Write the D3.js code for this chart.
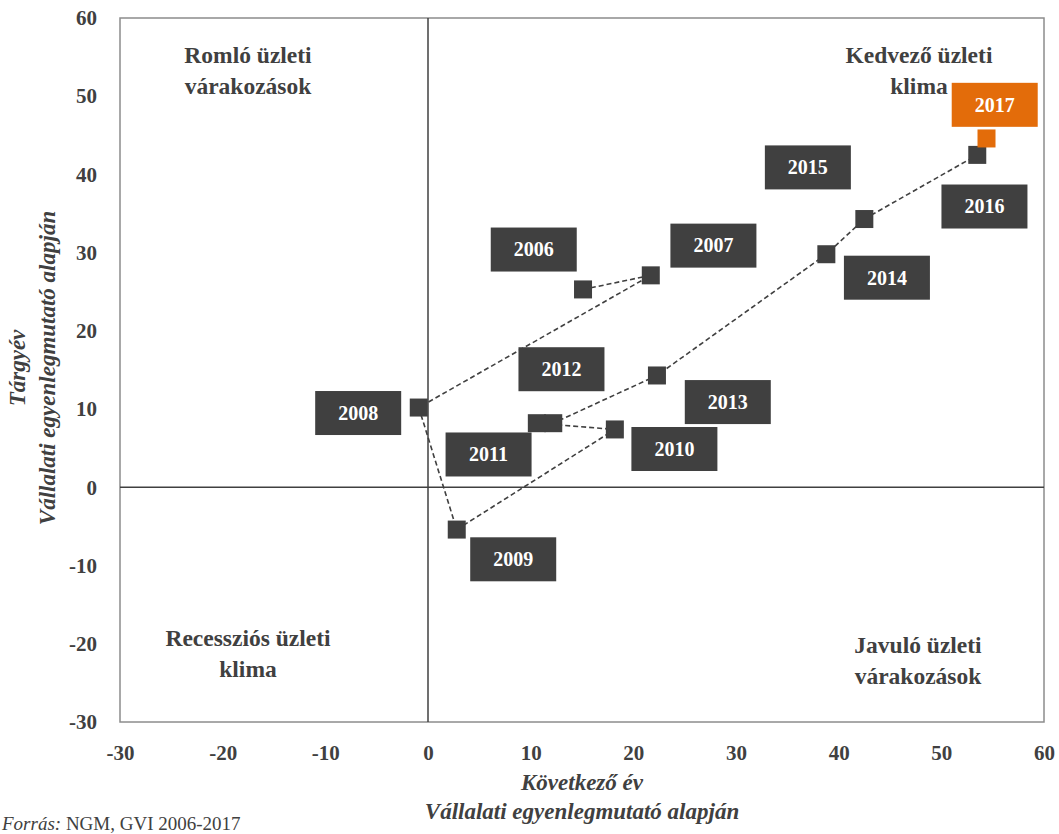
<!DOCTYPE html>
<html lang="hu">
<head>
<meta charset="UTF-8">
<title>Üzleti klíma</title>
<style>
  body { margin: 0; background: #fff; }
  svg text { font-family: "Liberation Serif", "DejaVu Serif", serif; }
</style>
</head>
<body>
<div id="chart"></div>
<script src="https://d3js.org/d3.v7.min.js"></script>
<script>
// years and the two balance indicators (x: next year, y: current year)
const years = [2006, 2007, 2008, 2009, 2010, 2011, 2012, 2013, 2014, 2015, 2016, 2017];
const nextYear = [15.1, 21.7, -0.9, 2.8, 18.2, 10.6, 12.2, 22.3, 38.8, 42.5, 53.5, 54.4];
const thisYear = [25.3, 27.1, 10.2, -5.4, 7.4, 8.2, 8.2, 14.3, 29.8, 34.3, 42.5, 44.6];
const tickValues = [-30, -20, -10, 0, 10, 20, 30, 40, 50, 60];

// where each year label sits, in chart units
const labelX = [10.3, 27.8, -6.8, 8.3, 24.0, 5.9, 13.0, 29.2, 44.7, 37.0, 54.2, 55.2];
const labelY = [30.4, 30.9, 9.5, -9.2, 4.9, 4.2, 15.1, 10.9, 26.8, 40.9, 35.9, 48.9];

const dark = "#404040";
const orange = "#E36C0A";

const W = 1059, H = 834;
const svg = d3.select("#chart").append("svg")
    .attr("width", W).attr("height", H);

const x = d3.scaleLinear().domain([-30, 60]).range([120, 1044]);
const y = d3.scaleLinear().domain([-30, 60]).range([722, 18]);

// frame
svg.append("rect")
    .attr("x", x(-30)).attr("y", y(60))
    .attr("width", x(60) - x(-30)).attr("height", y(-30) - y(60))
    .attr("fill", "none").attr("stroke", "#8c8c8c").attr("stroke-width", 1.5);

// zero lines
svg.append("line")
    .attr("x1", x(0)).attr("x2", x(0)).attr("y1", y(60)).attr("y2", y(-30))
    .attr("stroke", dark).attr("stroke-width", 1.5);
svg.append("line")
    .attr("x1", x(-30)).attr("x2", x(60)).attr("y1", y(0)).attr("y2", y(0))
    .attr("stroke", dark).attr("stroke-width", 1.5);

// axes (labels only), plain hyphen for negatives
const fmt = d => String(d);
const xAxis = svg.append("g")
    .attr("transform", `translate(0,${y(-30)})`)
    .call(d3.axisBottom(x).tickValues(tickValues).tickFormat(fmt).tickSize(0).tickPadding(23));
const yAxis = svg.append("g")
    .attr("transform", `translate(${x(-30)},0)`)
    .call(d3.axisLeft(y).tickValues(tickValues).tickFormat(fmt).tickSize(0).tickPadding(23));
[xAxis, yAxis].forEach(g => {
    g.select(".domain").remove();
    g.selectAll("text")
        .attr("font-family", "Liberation Serif, serif")
        .attr("font-size", 21).attr("font-weight", "bold").attr("fill", dark);
});

// quadrant captions
const quads = [
    { lines: ["Romló üzleti", "várakozások"], cx: 248, cy: 63 },
    { lines: ["Kedvező üzleti", "klima"], cx: 919, cy: 63 },
    { lines: ["Recessziós üzleti", "klima"], cx: 248, cy: 646 },
    { lines: ["Javuló üzleti", "várakozások"], cx: 918, cy: 653 }
];
quads.forEach(q => {
    const t = svg.append("text")
        .attr("text-anchor", "middle")
        .attr("font-size", 23.5).attr("font-weight", "bold").attr("fill", dark);
    q.lines.forEach((s, i) => {
        t.append("tspan").attr("x", q.cx).attr("y", q.cy + i * 31).text(s);
    });
});

// dashed path through the years
const pts = years.map((yr, i) => ({ year: yr, x: nextYear[i], y: thisYear[i] }));
svg.append("path")
    .datum(pts)
    .attr("d", d3.line().x(d => x(d.x)).y(d => y(d.y)))
    .attr("fill", "none").attr("stroke", dark)
    .attr("stroke-width", 1.6).attr("stroke-dasharray", "5,3");

// markers
const sq = 18;
svg.selectAll(".pt").data(pts).enter().append("rect")
    .attr("class", "pt")
    .attr("x", d => x(d.x) - sq / 2).attr("y", d => y(d.y) - sq / 2)
    .attr("width", sq).attr("height", sq)
    .attr("fill", d => d.year === 2017 ? orange : dark);

// year labels
const bw = 86, bh = 44;
const labels = svg.selectAll(".lab").data(pts).enter().append("g")
    .attr("class", "lab")
    .attr("transform", (d, i) => `translate(${x(labelX[i])},${y(labelY[i])})`);
labels.append("rect")
    .attr("x", -bw / 2).attr("y", -bh / 2).attr("width", bw).attr("height", bh)
    .attr("fill", d => d.year === 2017 ? orange : dark);
labels.append("text")
    .attr("text-anchor", "middle").attr("dy", "0.34em")
    .attr("font-size", 20).attr("font-weight", "bold").attr("fill", "#fff")
    .text(d => d.year);

// axis titles
const xt = svg.append("text")
    .attr("text-anchor", "middle")
    .attr("font-size", 23).attr("font-style", "italic").attr("font-weight", "bold").attr("fill", dark);
xt.append("tspan").attr("x", 582).attr("y", 790).text("Következő év");
xt.append("tspan").attr("x", 582).attr("y", 819).text("Vállalati egyenlegmutató alapján");

const yt = svg.append("text")
    .attr("text-anchor", "middle")
    .attr("transform", "translate(0,368) rotate(-90)")
    .attr("font-size", 23).attr("font-style", "italic").attr("font-weight", "bold").attr("fill", dark);
yt.append("tspan").attr("x", 0).attr("y", 25).text("Tárgyév");
yt.append("tspan").attr("x", 0).attr("y", 55).text("Vállalati egyenlegmutató alapján");

// source note, low in the corner as in the original but kept readable
const src = svg.append("text")
    .attr("x", 2).attr("y", 830)
    .attr("font-size", 19).attr("fill", dark);
src.append("tspan").attr("font-style", "italic").text("Forrás: ");
src.append("tspan").text("NGM, GVI 2006-2017");
</script>
</body>
</html>
